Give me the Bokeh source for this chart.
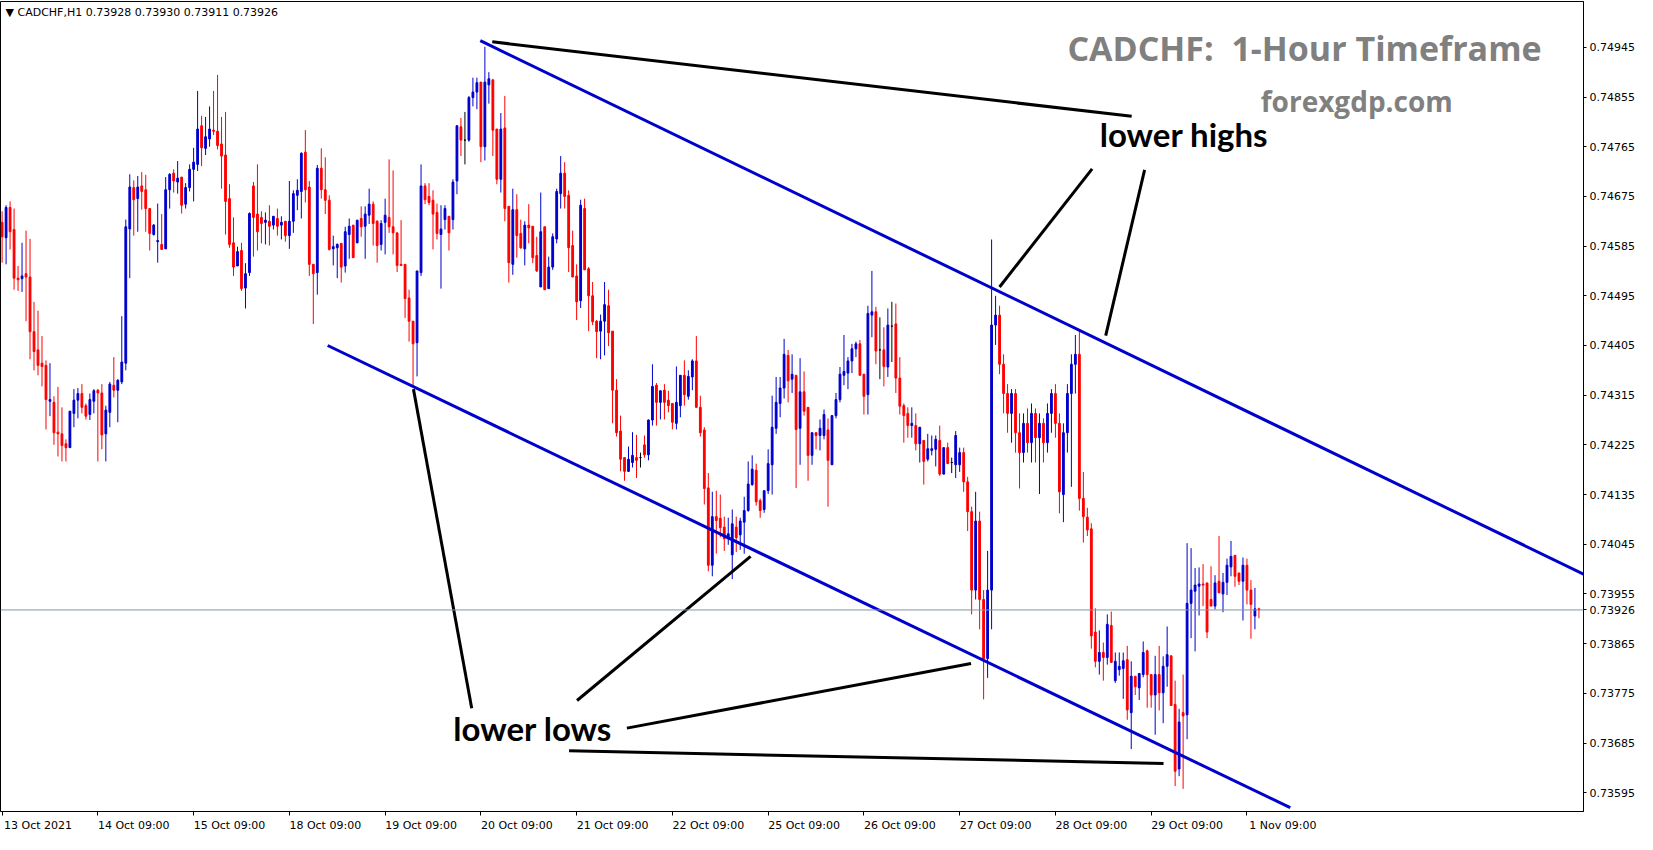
from bokeh.plotting import figure
from bokeh.models import Range1d, FixedTicker, Label, Span, PrintfTickFormatter, ColumnDataSource
from bokeh.embed import file_html
from bokeh.resources import INLINE

# ---------------- data (CADCHF H1, one value per hourly bar) ----------------
opens = [
 0.74628, 0.74600, 0.74655, 0.74615, 0.74527, 0.74526, 0.74535, 0.74529, 0.74430, 0.74397,
 0.74373, 0.74369, 0.74304, 0.74302, 0.74248, 0.74245, 0.74227, 0.74220, 0.74282, 0.74306,
 0.74318, 0.74296, 0.74280, 0.74304, 0.74324, 0.74319, 0.74245, 0.74284, 0.74333, 0.74324,
 0.74339, 0.74373, 0.74616, 0.74691, 0.74671, 0.74694, 0.74687, 0.74653, 0.74606, 0.74593,
 0.74588, 0.74580, 0.74687, 0.74717, 0.74701, 0.74710, 0.74661, 0.74691, 0.74724, 0.74733,
 0.74803, 0.74762, 0.74779, 0.74795, 0.74793, 0.74770, 0.74750, 0.74671, 0.74591, 0.74549,
 0.74577, 0.74509, 0.74537, 0.74694, 0.74643, 0.74637, 0.74628, 0.74630, 0.74623, 0.74635,
 0.74623, 0.74630, 0.74604, 0.74630, 0.74677, 0.74684, 0.74755, 0.74692, 0.74552, 0.74537,
 0.74726, 0.74687, 0.74668, 0.74580, 0.74582, 0.74590, 0.74549, 0.74606, 0.74623, 0.74591,
 0.74635, 0.74621, 0.74641, 0.74661, 0.74630, 0.74588, 0.74628, 0.74637, 0.74620, 0.74609,
 0.74552, 0.74552, 0.74491, 0.74449, 0.74410, 0.74537, 0.74694, 0.74675, 0.74668, 0.74646,
 0.74606, 0.74633, 0.74639, 0.74633, 0.74703, 0.74801, 0.74777, 0.74777, 0.74854, 0.74864,
 0.74882, 0.74765, 0.74877, 0.74886, 0.74797, 0.74706, 0.74799, 0.74657, 0.74552, 0.74651,
 0.74608, 0.74580, 0.74623, 0.74621, 0.74568, 0.74511, 0.74620, 0.74508, 0.74547, 0.74598,
 0.74680, 0.74717, 0.74677, 0.74586, 0.74531, 0.74486, 0.74653, 0.74544, 0.74495, 0.74449,
 0.74431, 0.74449, 0.74477, 0.74431, 0.74324, 0.74250, 0.74202, 0.74177, 0.74193, 0.74202,
 0.74202, 0.74225, 0.74207, 0.74270, 0.74333, 0.74302, 0.74324, 0.74306, 0.74300, 0.74264,
 0.74296, 0.74351, 0.74313, 0.74348, 0.74377, 0.74293, 0.74252, 0.74147, 0.74007, 0.74095,
 0.74092, 0.74076, 0.74055, 0.74026, 0.74076, 0.74062, 0.74085, 0.74106, 0.74153, 0.74179,
 0.74124, 0.74108, 0.74142, 0.74189, 0.74255, 0.74300, 0.74328, 0.74387, 0.74344, 0.74351,
 0.74255, 0.74321, 0.74293, 0.74206, 0.74247, 0.74242, 0.74242, 0.74252, 0.74189, 0.74278,
 0.74307, 0.74351, 0.74355, 0.74377, 0.74399, 0.74408, 0.74353, 0.74316, 0.74460, 0.74466,
 0.74397, 0.74397, 0.74366, 0.74440, 0.74444, 0.74346, 0.74296, 0.74282, 0.74260, 0.74260,
 0.74227, 0.74233, 0.74199, 0.74215, 0.74217, 0.74233, 0.74172, 0.74220, 0.74193, 0.74189,
 0.74189, 0.74211, 0.74158, 0.74104, 0.73962, 0.74087, 0.73945, 0.73838, 0.73962, 0.74442,
 0.74460, 0.74371, 0.74318, 0.74282, 0.74318, 0.74247, 0.74211, 0.74264, 0.74229, 0.74282,
 0.74238, 0.74264, 0.74229, 0.74282, 0.74318, 0.74264, 0.74135, 0.74247, 0.74318, 0.74371,
 0.74389, 0.74128, 0.74094, 0.74073, 0.73886, 0.73833, 0.73849, 0.73840, 0.73898, 0.73798,
 0.73818, 0.73820, 0.73836, 0.73740, 0.73806, 0.73785, 0.73809, 0.73852, 0.73809, 0.73772,
 0.73809, 0.73776, 0.73824, 0.73843, 0.73755, 0.73638, 0.73740, 0.73736, 0.73938, 0.73960,
 0.73969, 0.73973, 0.73975, 0.73945, 0.73933, 0.73978, 0.73955, 0.73976, 0.74004, 0.74025,
 0.73993, 0.73978, 0.74007, 0.73962, 0.73915, 0.73928]

highs = [
 0.74648, 0.74659, 0.74666, 0.74653, 0.74549, 0.74591, 0.74613, 0.74598, 0.74484, 0.74468,
 0.74422, 0.74378, 0.74373, 0.74313, 0.74330, 0.74293, 0.74235, 0.74286, 0.74326, 0.74328,
 0.74335, 0.74300, 0.74318, 0.74326, 0.74326, 0.74335, 0.74296, 0.74339, 0.74384, 0.74344,
 0.74458, 0.74633, 0.74715, 0.74704, 0.74712, 0.74719, 0.74714, 0.74653, 0.74625, 0.74662,
 0.74643, 0.74710, 0.74717, 0.74724, 0.74739, 0.74710, 0.74699, 0.74733, 0.74763, 0.74866,
 0.74821, 0.74819, 0.74838, 0.74866, 0.74895, 0.74819, 0.74828, 0.74697, 0.74637, 0.74584,
 0.74591, 0.74554, 0.74646, 0.74701, 0.74733, 0.74648, 0.74646, 0.74659, 0.74639, 0.74653,
 0.74639, 0.74630, 0.74703, 0.74686, 0.74706, 0.74755, 0.74795, 0.74703, 0.74552, 0.74732,
 0.74762, 0.74746, 0.74677, 0.74604, 0.74590, 0.74590, 0.74620, 0.74635, 0.74623, 0.74632,
 0.74657, 0.74657, 0.74689, 0.74666, 0.74632, 0.74632, 0.74671, 0.74742, 0.74722, 0.74609,
 0.74632, 0.74552, 0.74506, 0.74449, 0.74540, 0.74733, 0.74699, 0.74699, 0.74686, 0.74662,
 0.74659, 0.74659, 0.74639, 0.74706, 0.74803, 0.74817, 0.74828, 0.74857, 0.74890, 0.74890,
 0.74882, 0.74946, 0.74900, 0.74888, 0.74797, 0.74826, 0.74857, 0.74657, 0.74689, 0.74679,
 0.74633, 0.74630, 0.74661, 0.74621, 0.74602, 0.74682, 0.74620, 0.74566, 0.74608, 0.74689,
 0.74748, 0.74737, 0.74686, 0.74613, 0.74552, 0.74669, 0.74671, 0.74547, 0.74520, 0.74451,
 0.74461, 0.74520, 0.74506, 0.74431, 0.74344, 0.74278, 0.74202, 0.74222, 0.74248, 0.74243,
 0.74211, 0.74242, 0.74271, 0.74371, 0.74337, 0.74323, 0.74335, 0.74323, 0.74300, 0.74367,
 0.74351, 0.74378, 0.74360, 0.74380, 0.74422, 0.74314, 0.74257, 0.74174, 0.74140, 0.74142,
 0.74135, 0.74095, 0.74093, 0.74108, 0.74095, 0.74093, 0.74131, 0.74195, 0.74206, 0.74191,
 0.74128, 0.74142, 0.74217, 0.74314, 0.74348, 0.74348, 0.74417, 0.74397, 0.74389, 0.74351,
 0.74382, 0.74358, 0.74293, 0.74247, 0.74248, 0.74271, 0.74289, 0.74273, 0.74278, 0.74319,
 0.74366, 0.74424, 0.74384, 0.74408, 0.74412, 0.74415, 0.74353, 0.74477, 0.74540, 0.74475,
 0.74456, 0.74438, 0.74472, 0.74484, 0.74481, 0.74384, 0.74300, 0.74293, 0.74293, 0.74282,
 0.74257, 0.74233, 0.74245, 0.74242, 0.74242, 0.74260, 0.74220, 0.74229, 0.74202, 0.74250,
 0.74220, 0.74220, 0.74167, 0.74113, 0.74140, 0.74104, 0.73962, 0.74033, 0.74597, 0.74495,
 0.74477, 0.74389, 0.74335, 0.74326, 0.74326, 0.74282, 0.74282, 0.74291, 0.74300, 0.74291,
 0.74282, 0.74273, 0.74300, 0.74326, 0.74335, 0.74282, 0.74264, 0.74335, 0.74389, 0.74424,
 0.74433, 0.74176, 0.74111, 0.74083, 0.73929, 0.73889, 0.73867, 0.73918, 0.73923, 0.73849,
 0.73849, 0.73849, 0.73861, 0.73833, 0.73806, 0.73811, 0.73869, 0.73854, 0.73809, 0.73843,
 0.73861, 0.73842, 0.73896, 0.73843, 0.73798, 0.73747, 0.73809, 0.74047, 0.74038, 0.74002,
 0.74003, 0.74009, 0.73975, 0.74005, 0.73989, 0.74060, 0.73993, 0.74019, 0.74051, 0.74025,
 0.73993, 0.74021, 0.74019, 0.73980, 0.73966, 0.73930]

lows = [
 0.74555, 0.74552, 0.74579, 0.74506, 0.74504, 0.74502, 0.74449, 0.74380, 0.74360, 0.74351,
 0.74331, 0.74253, 0.74277, 0.74225, 0.74204, 0.74195, 0.74195, 0.74220, 0.74257, 0.74273,
 0.74282, 0.74271, 0.74270, 0.74282, 0.74195, 0.74217, 0.74195, 0.74257, 0.74311, 0.74266,
 0.74335, 0.74360, 0.74527, 0.74604, 0.74611, 0.74651, 0.74611, 0.74577, 0.74604, 0.74555,
 0.74579, 0.74580, 0.74653, 0.74682, 0.74680, 0.74644, 0.74653, 0.74684, 0.74666, 0.74721,
 0.74730, 0.74750, 0.74765, 0.74786, 0.74760, 0.74689, 0.74606, 0.74582, 0.74531, 0.74549,
 0.74504, 0.74472, 0.74531, 0.74566, 0.74577, 0.74590, 0.74588, 0.74586, 0.74615, 0.74604,
 0.74597, 0.74593, 0.74580, 0.74609, 0.74650, 0.74635, 0.74664, 0.74531, 0.74444, 0.74497,
 0.74671, 0.74643, 0.74577, 0.74550, 0.74527, 0.74519, 0.74537, 0.74562, 0.74564, 0.74590,
 0.74602, 0.74562, 0.74625, 0.74586, 0.74555, 0.74577, 0.74570, 0.74609, 0.74570, 0.74538,
 0.74550, 0.74455, 0.74412, 0.74330, 0.74349, 0.74531, 0.74661, 0.74659, 0.74579, 0.74597,
 0.74508, 0.74615, 0.74577, 0.74615, 0.74679, 0.74748, 0.74733, 0.74774, 0.74838, 0.74833,
 0.74737, 0.74740, 0.74843, 0.74748, 0.74697, 0.74682, 0.74630, 0.74519, 0.74533, 0.74564,
 0.74580, 0.74550, 0.74590, 0.74554, 0.74538, 0.74511, 0.74506, 0.74508, 0.74542, 0.74590,
 0.74653, 0.74653, 0.74538, 0.74529, 0.74451, 0.74473, 0.74542, 0.74431, 0.74442, 0.74382,
 0.74380, 0.74387, 0.74404, 0.74264, 0.74240, 0.74177, 0.74160, 0.74176, 0.74184, 0.74165,
 0.74184, 0.74202, 0.74197, 0.74260, 0.74260, 0.74271, 0.74271, 0.74284, 0.74253, 0.74253,
 0.74275, 0.74296, 0.74307, 0.74324, 0.74293, 0.74240, 0.74117, 0.73996, 0.73987, 0.74028,
 0.74058, 0.74033, 0.74044, 0.73982, 0.74031, 0.74035, 0.74028, 0.74104, 0.74151, 0.74115,
 0.74093, 0.74102, 0.74136, 0.74135, 0.74245, 0.74275, 0.74309, 0.74302, 0.74319, 0.74147,
 0.74189, 0.74278, 0.74160, 0.74189, 0.74217, 0.74215, 0.74235, 0.74113, 0.74189, 0.74273,
 0.74302, 0.74333, 0.74326, 0.74355, 0.74384, 0.74351, 0.74280, 0.74280, 0.74420, 0.74371,
 0.74344, 0.74331, 0.74348, 0.74375, 0.74319, 0.74280, 0.74229, 0.74238, 0.74238, 0.74215,
 0.74193, 0.74153, 0.74195, 0.74206, 0.74186, 0.74169, 0.74172, 0.74191, 0.74174, 0.74165,
 0.74176, 0.74140, 0.74069, 0.73918, 0.73945, 0.73891, 0.73764, 0.73803, 0.73891, 0.74406,
 0.74353, 0.74282, 0.74247, 0.74229, 0.74211, 0.74146, 0.74193, 0.74211, 0.74193, 0.74193,
 0.74136, 0.74193, 0.74211, 0.74247, 0.74238, 0.74101, 0.74085, 0.74211, 0.74149, 0.74318,
 0.74106, 0.74048, 0.74060, 0.73856, 0.73822, 0.73809, 0.73798, 0.73827, 0.73831, 0.73794,
 0.73807, 0.73765, 0.73727, 0.73674, 0.73772, 0.73763, 0.73804, 0.73749, 0.73749, 0.73700,
 0.73744, 0.73721, 0.73787, 0.73753, 0.73607, 0.73625, 0.73602, 0.73692, 0.73875, 0.73851,
 0.73916, 0.73933, 0.73875, 0.73933, 0.73927, 0.73957, 0.73922, 0.73953, 0.73987, 0.73968,
 0.73971, 0.73907, 0.73936, 0.73874, 0.73891, 0.73911]

closes = [
 0.74602, 0.74655, 0.74611, 0.74527, 0.74524, 0.74531, 0.74529, 0.74430, 0.74394, 0.74369,
 0.74367, 0.74307, 0.74307, 0.74247, 0.74245, 0.74224, 0.74220, 0.74286, 0.74306, 0.74318,
 0.74293, 0.74277, 0.74307, 0.74323, 0.74319, 0.74243, 0.74288, 0.74335, 0.74324, 0.74342,
 0.74375, 0.74620, 0.74692, 0.74669, 0.74692, 0.74684, 0.74653, 0.74608, 0.74623, 0.74595,
 0.74579, 0.74687, 0.74715, 0.74703, 0.74708, 0.74659, 0.74691, 0.74724, 0.74737, 0.74797,
 0.74763, 0.74783, 0.74797, 0.74793, 0.74767, 0.74748, 0.74666, 0.74588, 0.74547, 0.74575,
 0.74508, 0.74535, 0.74644, 0.74637, 0.74611, 0.74626, 0.74632, 0.74621, 0.74639, 0.74621,
 0.74628, 0.74604, 0.74630, 0.74680, 0.74686, 0.74753, 0.74687, 0.74552, 0.74535, 0.74726,
 0.74687, 0.74668, 0.74579, 0.74584, 0.74588, 0.74547, 0.74611, 0.74621, 0.74564, 0.74632,
 0.74620, 0.74643, 0.74661, 0.74626, 0.74586, 0.74626, 0.74641, 0.74620, 0.74609, 0.74550,
 0.74550, 0.74490, 0.74449, 0.74408, 0.74540, 0.74694, 0.74669, 0.74664, 0.74643, 0.74608,
 0.74616, 0.74653, 0.74609, 0.74701, 0.74803, 0.74777, 0.74777, 0.74854, 0.74864, 0.74881,
 0.74765, 0.74882, 0.74888, 0.74795, 0.74706, 0.74797, 0.74653, 0.74555, 0.74651, 0.74604,
 0.74582, 0.74623, 0.74618, 0.74564, 0.74540, 0.74611, 0.74506, 0.74547, 0.74602, 0.74684,
 0.74717, 0.74675, 0.74582, 0.74529, 0.74484, 0.74659, 0.74542, 0.74495, 0.74448, 0.74430,
 0.74449, 0.74479, 0.74428, 0.74324, 0.74247, 0.74199, 0.74177, 0.74199, 0.74206, 0.74197,
 0.74202, 0.74207, 0.74270, 0.74331, 0.74302, 0.74323, 0.74302, 0.74296, 0.74266, 0.74302,
 0.74351, 0.74316, 0.74349, 0.74377, 0.74293, 0.74247, 0.74146, 0.74007, 0.74095, 0.74088,
 0.74075, 0.74055, 0.74064, 0.74082, 0.74057, 0.74087, 0.74106, 0.74154, 0.74181, 0.74122,
 0.74106, 0.74142, 0.74191, 0.74257, 0.74302, 0.74328, 0.74389, 0.74341, 0.74353, 0.74253,
 0.74321, 0.74286, 0.74206, 0.74247, 0.74242, 0.74255, 0.74280, 0.74197, 0.74278, 0.74307,
 0.74353, 0.74358, 0.74377, 0.74399, 0.74408, 0.74351, 0.74313, 0.74463, 0.74466, 0.74395,
 0.74397, 0.74367, 0.74442, 0.74440, 0.74346, 0.74295, 0.74278, 0.74260, 0.74264, 0.74227,
 0.74257, 0.74195, 0.74218, 0.74218, 0.74235, 0.74172, 0.74220, 0.74191, 0.74193, 0.74242,
 0.74211, 0.74158, 0.74104, 0.73962, 0.74087, 0.73945, 0.73838, 0.73962, 0.74442, 0.74460,
 0.74371, 0.74318, 0.74282, 0.74318, 0.74247, 0.74211, 0.74264, 0.74229, 0.74282, 0.74238,
 0.74264, 0.74229, 0.74282, 0.74318, 0.74264, 0.74140, 0.74247, 0.74318, 0.74371, 0.74389,
 0.74128, 0.74095, 0.74071, 0.73879, 0.73833, 0.73849, 0.73840, 0.73900, 0.73831, 0.73833,
 0.73824, 0.73834, 0.73745, 0.73806, 0.73787, 0.73811, 0.73849, 0.73809, 0.73772, 0.73809,
 0.73776, 0.73824, 0.73845, 0.73753, 0.73634, 0.73723, 0.73734, 0.73938, 0.73962, 0.73971,
 0.73973, 0.73971, 0.73886, 0.73933, 0.73975, 0.73957, 0.73976, 0.74007, 0.74023, 0.73987,
 0.73978, 0.74007, 0.73962, 0.73936, 0.73928, 0.73926]

# time axis labels (bar index of each label, one bar = one hour)
time_tick_bars = [0, 24, 48, 72, 96, 120, 144, 168, 192, 216, 240, 264, 288, 312]
time_tick_labels = ["13 Oct 2021", "14 Oct 09:00", "15 Oct 09:00", "18 Oct 09:00", "19 Oct 09:00",
                    "20 Oct 09:00", "21 Oct 09:00", "22 Oct 09:00", "25 Oct 09:00", "26 Oct 09:00",
                    "27 Oct 09:00", "28 Oct 09:00", "29 Oct 09:00", "1 Nov 09:00"]
price_ticks = [0.73595, 0.73685, 0.73775, 0.73865, 0.73955, 0.74045, 0.74135, 0.74225,
               0.74315, 0.74405, 0.74495, 0.74585, 0.74675, 0.74765, 0.74855, 0.74945]

# channel lines (bar index, price)
upper_channel_bars = [119.85, 396.35]
upper_channel_prices = [0.74957, 0.73991]
lower_channel_bars = [81.6, 322.85]
lower_channel_prices = [0.74405, 0.73568]

# black pointer lines (bar index pairs, price pairs)
pointer_bars = [[122.85, 283.1], [273.2, 250.0], [286.35, 276.6], [103.1, 117.7],
                [144.1, 187.6], [156.6, 242.85], [142.1, 291.1]]
pointer_prices = [[0.74955, 0.74820], [0.74725, 0.74511], [0.74723, 0.74423], [0.74326, 0.73748],
                  [0.73762, 0.74023], [0.73712, 0.73829], [0.73671, 0.73648]]

last_price = 0.73926
header_text = "\u25BC CADCHF,H1  0.73928 0.73930 0.73911 0.73926"

# ---------------- figure ----------------
X0, X1 = -0.4, 396.35
Y0, Y1 = 0.73561, 0.75028
W, H = 1637, 834
BOTTOM = 22
frame_h = H - 1 - BOTTOM
px = (Y1 - Y0) / frame_h
LABEL_SHIFT = 9   # MT4 prints each time label to the right of its tick

BULL = "#0000cd"
BEAR = "#ff0000"

n = len(opens)
bars = list(range(n))
colors = [BULL if c > o else (BEAR if c < o else "#000000") for o, c in zip(opens, closes)]
src = ColumnDataSource(dict(
    x=bars, o=opens, h=highs, l=lows, c=closes,
    top=[max(o, c) for o, c in zip(opens, closes)],
    bottom=[min(o, c) for o, c in zip(opens, closes)],
    color=colors))

p = figure(width=W, height=H, x_range=Range1d(X0, X1), y_range=Range1d(Y0, Y1),
           y_axis_location="right", toolbar_location=None, output_backend="svg",
           min_border_left=0, min_border_top=1, min_border_right=0, min_border_bottom=BOTTOM)
p.xgrid.visible = False
p.ygrid.visible = False
p.outline_line_color = "black"
p.outline_line_width = 1
p.background_fill_color = "white"
p.border_fill_color = "white"

ax_font = "DejaVu Sans"
p.yaxis.ticker = FixedTicker(ticks=price_ticks + [last_price])
p.yaxis.formatter = PrintfTickFormatter(format="%.5f")
p.yaxis.major_label_text_font = ax_font
p.yaxis.major_label_text_font_size = "11px"
p.yaxis.major_label_text_color = "black"
p.yaxis.major_tick_out = 3
p.yaxis.major_tick_in = 0
p.yaxis.minor_tick_line_color = None
p.yaxis.major_label_standoff = 3
p.yaxis.axis_line_color = "black"

# time axis: tick marks as minor ticks at the label bars, label text centred a bit to the right
shifted = [b + LABEL_SHIFT for b in time_tick_bars]
p.xaxis.ticker = FixedTicker(ticks=shifted, minor_ticks=time_tick_bars)
p.xaxis.major_label_overrides = {s: t for s, t in zip(shifted, time_tick_labels)}
p.xaxis.major_tick_line_color = None
p.xaxis.major_tick_out = 0
p.xaxis.major_tick_in = 0
p.xaxis.minor_tick_line_color = "black"
p.xaxis.minor_tick_out = 4
p.xaxis.minor_tick_in = 0
p.xaxis.major_label_standoff = 3
p.xaxis.major_label_text_font = ax_font
p.xaxis.major_label_text_font_size = "11px"
p.xaxis.major_label_text_color = "black"
p.xaxis.axis_line_color = "black"

# current price line
p.add_layout(Span(location=last_price, dimension="width", line_color="#8494a4", line_width=1))

# candles
p.segment(x0="x", y0="l", x1="x", y1="h", line_color="color", line_width=1, source=src)
p.vbar(x="x", width=0.45, top="top", bottom="bottom", fill_color="color", line_color="color",
       line_width=1, source=src)

# channel lines
p.line(upper_channel_bars, upper_channel_prices, line_color=BULL, line_width=3)
p.line(lower_channel_bars, lower_channel_prices, line_color=BULL, line_width=3)
p.multi_line(pointer_bars, pointer_prices, line_color="black", line_width=3)

# header
p.add_layout(Label(x=X0, y=Y1 - 11 * px, x_offset=5, text=header_text, text_align="left",
                   text_baseline="middle", text_font=ax_font, text_font_size="11px", text_color="black"))

# annotations
p.add_layout(Label(x=385.85, y=0.74943, text="CADCHF:\u00a0 1-Hour Timeframe", text_align="right",
                   text_baseline="middle", text_font="Open Sans", text_font_style="bold",
                   text_font_size="34px", text_color="#808080"))
p.add_layout(Label(x=363.6, y=0.74847, text="forexgdp.com", text_align="right",
                   text_baseline="middle", text_font="Open Sans", text_font_style="bold",
                   text_font_size="28px", text_color="#808080"))
p.add_layout(Label(x=275.1, y=0.74788, text="lower highs", text_align="left",
                   text_baseline="middle", text_font="Lato", text_font_style="bold",
                   text_font_size="33px", text_color="black"))
p.add_layout(Label(x=113.1, y=0.73712, text="lower lows", text_align="left",
                   text_baseline="middle", text_font="Lato", text_font_style="bold",
                   text_font_size="33px", text_color="black"))

open("out.html", "w").write(file_html(p, INLINE))
